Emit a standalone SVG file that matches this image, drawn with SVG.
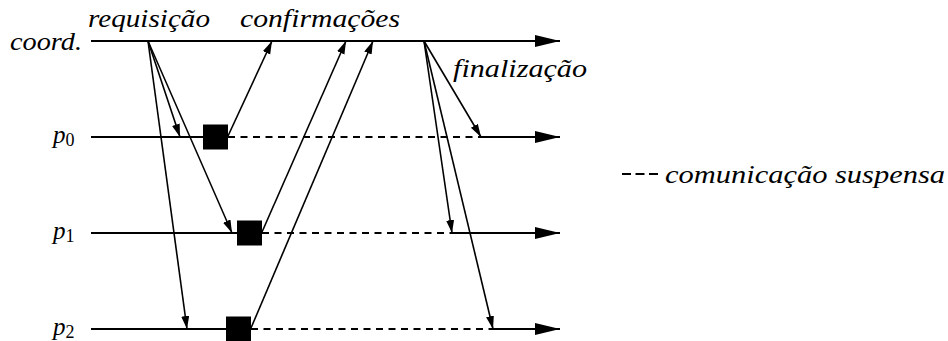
<svg xmlns="http://www.w3.org/2000/svg" width="948" height="341" viewBox="0 0 948 341">
<style>
.lbl{font-family:"Liberation Serif","DejaVu Serif","Times New Roman",serif;font-style:italic;font-size:25px;fill:#000}
.sub{font-style:normal;font-size:18px}
.axis{stroke:#000;stroke-width:2;fill:none}
.msg{stroke:#000;stroke-width:1.6;fill:none}
.dash{stroke:#000;stroke-width:2;fill:none;stroke-dasharray:7,5.5}
.blk{fill:#000}
</style>
<defs>
<marker id="ah" markerUnits="userSpaceOnUse" markerWidth="14" markerHeight="9" refX="13" refY="4" orient="auto">
<path d="M0,0 L13,4 L0,8 z" fill="#000"/>
</marker>
<marker id="big" markerUnits="userSpaceOnUse" markerWidth="26" markerHeight="13" refX="25" refY="6" orient="auto">
<path d="M0,0 L25,6 L0,12 z" fill="#000"/>
</marker>
</defs>

<g id="coord">
<text class="lbl" x="10" y="50" textLength="72" lengthAdjust="spacingAndGlyphs">coord.</text>
<line class="axis" x1="91" y1="41" x2="560" y2="41" marker-end="url(#big)"/>
</g>

<g id="p0">
<text class="lbl" x="53" y="143">p<tspan class="sub" dy="3">0</tspan></text>
<line class="axis" x1="91" y1="137" x2="204" y2="137"/>
<line class="dash" x1="228" y1="137" x2="480" y2="137"/>
<line class="axis" x1="480" y1="137" x2="560" y2="137" marker-end="url(#big)"/>
<rect class="blk" x="203" y="124.5" width="25" height="25"/>
</g>

<g id="p1">
<text class="lbl" x="53" y="239">p<tspan class="sub" dy="3">1</tspan></text>
<line class="axis" x1="91" y1="233" x2="238" y2="233"/>
<line class="dash" x1="262" y1="233" x2="452" y2="233"/>
<line class="axis" x1="452" y1="233" x2="560" y2="233" marker-end="url(#big)"/>
<rect class="blk" x="237" y="220.5" width="25" height="25"/>
</g>

<g id="p2">
<text class="lbl" x="53" y="335">p<tspan class="sub" dy="3">2</tspan></text>
<line class="axis" x1="91" y1="329" x2="227" y2="329"/>
<line class="dash" x1="251" y1="329" x2="493" y2="329"/>
<line class="axis" x1="493" y1="329" x2="560" y2="329" marker-end="url(#big)"/>
<rect class="blk" x="226" y="316.5" width="25" height="25"/>
</g>

<g id="labels">
<text class="lbl" x="88" y="27" textLength="122" lengthAdjust="spacingAndGlyphs">requisição</text>
<text class="lbl" x="240" y="27" textLength="160" lengthAdjust="spacingAndGlyphs">confirmações</text>
<text class="lbl" x="453" y="77" textLength="134" lengthAdjust="spacingAndGlyphs">finalização</text>
</g>

<g id="legend">
<line x1="622" y1="174" x2="659" y2="174" stroke="#000" stroke-width="2" stroke-dasharray="9,4.5"/>
<text class="lbl" x="665" y="183" textLength="280" lengthAdjust="spacingAndGlyphs">comunicação suspensa</text>
</g>

<g id="connectors">
<line class="msg" x1="148" y1="41" x2="180" y2="137" marker-end="url(#ah)"/>
<line class="msg" x1="148" y1="41" x2="232" y2="233" marker-end="url(#ah)"/>
<line class="msg" x1="148" y1="41" x2="187" y2="329" marker-end="url(#ah)"/>
<line class="msg" x1="228" y1="136" x2="272" y2="41" marker-end="url(#ah)"/>
<line class="msg" x1="262" y1="232" x2="346" y2="41" marker-end="url(#ah)"/>
<line class="msg" x1="251" y1="328" x2="373" y2="41" marker-end="url(#ah)"/>
<line class="msg" x1="424" y1="41" x2="481" y2="137" marker-end="url(#ah)"/>
<line class="msg" x1="424" y1="41" x2="452" y2="233" marker-end="url(#ah)"/>
<line class="msg" x1="424" y1="41" x2="493" y2="329" marker-end="url(#ah)"/>
</g>
</svg>
